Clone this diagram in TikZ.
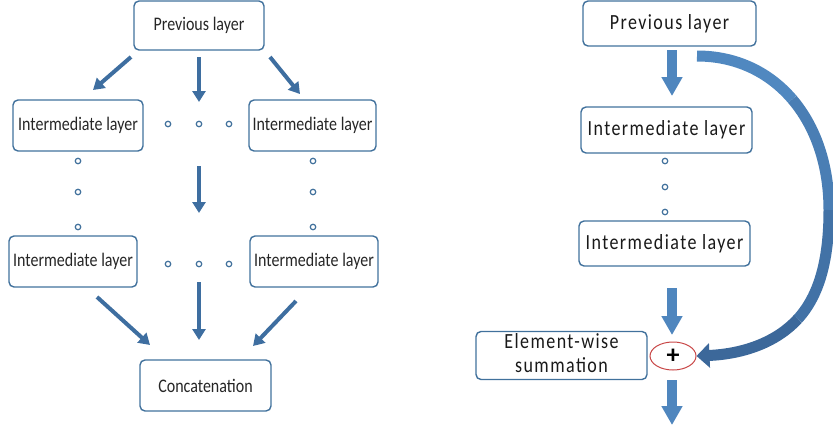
\documentclass[tikz,border=0pt]{standalone}
\usepackage{fontspec}
\setmainfont{Carlito}
\newfontfamily\widefont[LetterSpace=8]{Carlito}
\usetikzlibrary{arrows.meta,shapes.geometric}
\definecolor{boxblue}{RGB}{65,113,156}
\definecolor{arrL}{RGB}{62,110,160}
\definecolor{arrR}{RGB}{79,134,190}
\definecolor{cA}{RGB}{80,136,192}
\definecolor{cB}{RGB}{74,126,180}
\definecolor{cC}{RGB}{66,114,166}
\definecolor{cD}{RGB}{60,104,154}
\definecolor{plusred}{RGB}{200,70,70}
\newcommand{\vst}[1]{\scalebox{1}[1.2]{#1}}
\begin{document}
\begin{tikzpicture}[x=1pt,y=-1pt,
  lbox/.style={draw=boxblue,line width=1.4pt,rounded corners=5pt,inner sep=0pt,
    font=\fontsize{16}{18}\selectfont,text=black!85},
  rbox/.style={draw=boxblue,line width=1.4pt,rounded corners=5pt,inner sep=0pt,
    font=\widefont\fontsize{18}{20}\selectfont,text=black!90},
  larr/.style={draw=arrL,line width=4pt,-{Triangle[width=13pt,length=11pt]}},
  rarr/.style={draw=arrR,line width=9.5pt,-{Triangle[width=20pt,length=19pt]}},
  smalldot/.style={circle,draw=boxblue,fill=white,line width=1.2pt,minimum size=5.5pt,inner sep=0pt},
  curveseg/.style={line width=11pt}]
\useasboundingbox (0,0) rectangle (833,431);

% ---------- left diagram ----------
\node[lbox,minimum width=130pt,minimum height=49pt] (prevL) at (199,25.5) {\vst{Previous layer}};
\node[lbox,minimum width=130pt,minimum height=51pt] (intLa) at (78,125.5) {\vst{Intermediate layer}};
\node[lbox,minimum width=127pt,minimum height=51pt] (intRa) at (312.5,125.5) {\vst{Intermediate layer}};
\node[lbox,minimum width=128pt,minimum height=51pt] (intLb) at (73,261.5) {\vst{Intermediate layer}};
\node[lbox,minimum width=128pt,minimum height=51pt] (intRb) at (314,261.5) {\vst{Intermediate layer}};
\node[lbox,minimum width=131pt,minimum height=51pt] (concat) at (205.5,385.5) {\vst{Concatenation}};

\foreach \x/\n in {168/a,199/b,229/c}{
  \node[smalldot] (h1\n) at (\x,124) {};
  \node[smalldot] (h2\n) at (\x,264) {};
}
\foreach \y/\n in {161/a,192/b,227/c}{
  \node[smalldot] (vl\n) at (78,\y) {};
  \node[smalldot] (vr\n) at (313,\y) {};
}

\coordinate (a1s) at (131,57);  \coordinate (a1e) at (93,90);
\coordinate (a2s) at (199,57);  \coordinate (a2e) at (199,102);
\coordinate (a3s) at (270,57);  \coordinate (a3e) at (300,94);
\coordinate (a4s) at (199,166); \coordinate (a4e) at (199,213);
\coordinate (a5s) at (97,297);  \coordinate (a5e) at (150,345);
\coordinate (a6s) at (199,282); \coordinate (a6e) at (199,340);
\coordinate (a7s) at (296,301); \coordinate (a7e) at (253,346);
\foreach \i in {1,...,7}{ \draw[larr] (a\i s) -- (a\i e); }

% ---------- right diagram ----------
\node[rbox,minimum width=173pt,minimum height=45pt] (prevR) at (669.5,23.5) {\vst{Previous layer}};
\node[rbox,minimum width=171pt,minimum height=46pt] (intA) at (666.5,130) {\vst{Intermediate layer}};
\node[rbox,minimum width=171pt,minimum height=45pt] (intB) at (664.5,243.5) {\vst{Intermediate layer}};
\node[rbox,minimum width=171pt,minimum height=45pt] (elem) at (561.5,355.5)
  {\vst{\begin{tabular}{@{}c@{}}Element-wise\\[0pt]summation\end{tabular}}};
\node[ellipse,draw=plusred,line width=1pt,minimum width=46pt,minimum height=28pt,inner sep=0pt]
  (plus) at (673,356) {\fontsize{26}{26}\selectfont\textbf{+}};

\foreach \y/\n in {161/a,187/b,212/c}{ \node[smalldot] (rd\n) at (665,\y) {}; }

\coordinate (b1s) at (672,50);  \coordinate (b1e) at (672,96);
\coordinate (b2s) at (672,288); \coordinate (b2e) at (672,335);
\coordinate (b3s) at (672,380); \coordinate (b3e) at (672,425);
\foreach \i in {1,2,3}{ \draw[rarr] (b\i s) -- (b\i e); }

% curved skip connection
\coordinate (cs) at (697,56);
\coordinate (c1) at (792.25,99.25);
\coordinate (c2) at (829,210);
\coordinate (c3) at (797.75,319);
\draw[curveseg,draw=cA] (cs) .. controls (736,56) and (769,72) .. (c1);
\draw[curveseg,draw=cB] (c1) .. controls (815.5,126.5) and (829,165) .. (c2);
\draw[curveseg,draw=cC] (c2) .. controls (829,260) and (819.25,295.5) .. (c3);
\draw[curveseg,draw=cD,-{Triangle[width=24pt,length=13pt]}] (c3) .. controls (776.25,342.5) and (743,354) .. (plus.east);
\end{tikzpicture}
\end{document}
